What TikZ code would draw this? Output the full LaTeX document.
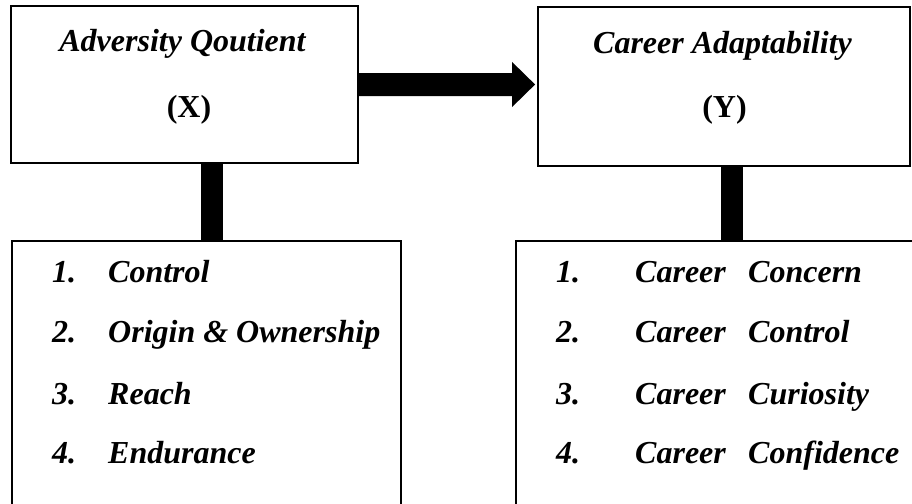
\documentclass[tikz,border=0pt]{standalone}
\usepackage{fontspec}
\setmainfont{Liberation Serif}
\usetikzlibrary{calc}
\tikzset{
  box/.style={draw=black, line width=1.8pt, fill=none, inner sep=0pt},
  ttl/.style={inner sep=0pt, anchor=base, font=\fontsize{32}{38}\selectfont\bfseries\itshape},
  ttlup/.style={inner sep=0pt, anchor=base, font=\fontsize{32}{38}\selectfont\bfseries},
  item/.style={inner sep=0pt, anchor=base west, font=\fontsize{32}{38}\selectfont\bfseries\itshape},
  bar/.style={draw=black, line width=22pt},
}
\begin{document}
\begin{tikzpicture}[x=1pt,y=-1pt]
\useasboundingbox (0,0) rectangle (912,503);
\clip (0,0) rectangle (912,503);
% boxes
\node[box, minimum width=347pt, minimum height=157pt] (X) at (184.5,84.5) {};
\node[box, minimum width=372pt, minimum height=159pt] (Y) at (724,86.5) {};
\node[box, minimum width=389pt, minimum height=300pt] (L) at (206.5,391) {};
\node[box, minimum width=420pt, minimum height=300pt] (R) at (726,391) {};
% titles
\node[ttl] (Xt) at (182.5,52) {Adversity Qoutient};
\node[ttlup] (Xl) at (189,117.5) {(X)};
\node[ttl] (Yt) at (722.5,53) {Career Adaptability};
\node[ttlup] (Yl) at (724.5,117.5) {(Y)};
% left list
\node[item] (l1n) at (52,282) {1.};
\node[item] (l1) at (108,282) {Control};
\node[item] (l2n) at (52,342) {2.};
\node[item] (l2) at (108,342) {Origin \& Ownership};
\node[item] (l3n) at (52,404) {3.};
\node[item] (l3) at (108,404) {Reach};
\node[item] (l4n) at (52,463) {4.};
\node[item] (l4) at (108,463) {Endurance};
% right list
\node[item] (r1n) at (556,282) {1.};
\node[item] (r1a) at (635,282) {Career};
\node[item] (r1b) at (748,282) {Concern};
\node[item] (r2n) at (556,342) {2.};
\node[item] (r2a) at (635,342) {Career};
\node[item] (r2b) at (748,342) {Control};
\node[item] (r3n) at (556,404) {3.};
\node[item] (r3a) at (635,404) {Career};
\node[item] (r3b) at (748,404) {Curiosity};
\node[item] (r4n) at (556,463) {4.};
\node[item] (r4a) at (635,463) {Career};
\node[item] (r4b) at (748,463) {Confidence};
% block arrow X -> Y
\coordinate (tip) at ($(X.east -| Y.west)+(-2,0)$);
\fill[black] ($(X.east)+(0,-11.5)$) -- ($(tip)+(-23,-11.5)$) -- ($(tip)+(-23,-22.5)$)
  -- (tip) -- ($(tip)+(-23,22.5)$) -- ($(tip)+(-23,11.5)$) -- ($(X.east)+(0,11.5)$) -- cycle;
% vertical bars
\coordinate (bl) at (212,0);
\coordinate (br) at (731.5,0);
\draw[bar] (X.south -| bl) -- (L.north -| bl);
\draw[bar] (Y.south -| br) -- (R.north -| br);
\end{tikzpicture}
\end{document}
